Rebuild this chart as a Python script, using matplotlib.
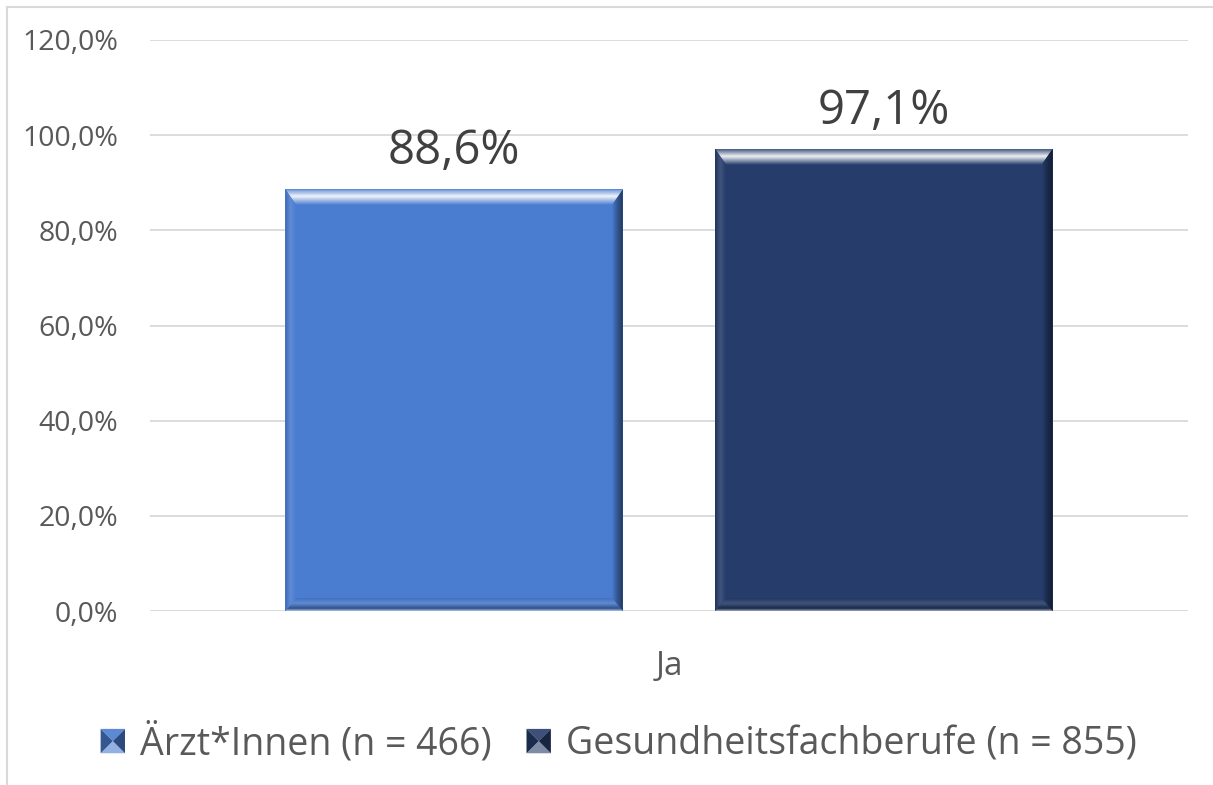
import matplotlib
matplotlib.use("Agg")
import matplotlib.pyplot as plt
import numpy as np
from matplotlib.patches import Polygon
from matplotlib.colors import to_rgb
from matplotlib.lines import Line2D
from matplotlib.legend_handler import HandlerBase

plt.rcParams['font.family'] = ['Open Sans', 'DejaVu Sans']

category = "Ja"
series = ["Ärzt*Innen (n = 466)", "Gesundheitsfachberufe (n = 855)"]
values = [88.6, 97.1]
value_labels = ["88,6%", "97,1%"]
colors = ["#4A7CD0", "#263D6B"]
yticks = [0, 20, 40, 60, 80, 100, 120]
ytick_labels = ["0,0%", "20,0%", "40,0%", "60,0%", "80,0%", "100,0%", "120,0%"]

TXT = "#595959"
W, H = 1213, 785
fig = plt.figure(figsize=(W / 100, H / 100), dpi=100)
ax = fig.add_axes([150 / W, 174 / H, 1038 / W, 571 / H])

offsets = [-0.207, 0.207]
width = 0.325
bars = []
for off, v, c in zip(offsets, values, colors):
    b = ax.bar(off, v, width=width, color=c, zorder=3)
    bars.append(b[0])

ax.set_xlim(-0.5, 0.5)
ax.set_ylim(0, 120)
ax.set_yticks(yticks)
ax.set_yticklabels(ytick_labels, fontsize=20.5, color=TXT)
ax.set_xticks([0])
ax.set_xticklabels([category], fontsize=24, color=TXT)
ax.tick_params(axis='both', length=0)
ax.tick_params(axis='y', pad=23)
ax.tick_params(axis='x', pad=28)
ax.grid(axis='y', color='#D9D9D9', linewidth=1.3, zorder=0)
for s in ax.spines.values():
    s.set_visible(False)

for bar, lab in zip(bars, value_labels):
    ax.annotate(lab, (bar.get_x() + bar.get_width() / 2, bar.get_height()),
                xytext=(0, 18), textcoords='offset points', ha='center', va='baseline',
                fontsize=34, color='#404040', zorder=5)


def mix(c, t, a):
    c = np.array(to_rgb(c)); t = np.array(to_rgb(t))
    return c * (1 - a) + t * a


def grad_fill(ax, poly_xy, stops, direction):
    """Fill polygon (display coords) with a linear gradient."""
    poly = Polygon(poly_xy, closed=True, transform=None, facecolor='none', edgecolor='none')
    ax.add_patch(poly)
    n = 64
    pos = np.linspace(0, 1, n)
    sp = [s[0] for s in stops]
    cols = np.array([[np.interp(p, sp, [to_rgb(s[1])[k] for s in stops]) for k in range(3)] for p in pos])
    xs = [p[0] for p in poly_xy]; ys = [p[1] for p in poly_xy]
    x0, x1, y0, y1 = min(xs), max(xs), min(ys), max(ys)
    if direction == 'down':      # position 0 at top
        img = cols[::-1][:, None, :]
    elif direction == 'up':      # position 0 at bottom
        img = cols[:, None, :]
    elif direction == 'right':   # position 0 at left
        img = cols[None, :, :]
    else:                        # 'left': 0 at right
        img = cols[::-1][None, :, :]
    im = ax.imshow(img, extent=[x0, x1, y0, y1], origin='lower', transform=None,
                   aspect='auto', interpolation='bilinear', zorder=4)
    im.set_clip_path(poly)


fig.canvas.draw()
for bar, c in zip(bars, colors):
    (x0, y0), (x1, y1) = ax.transData.transform([(bar.get_x(), 0),
                                                  (bar.get_x() + bar.get_width(), bar.get_height())])
    bt, bs, bb = 16, 11, 13
    # top bevel
    grad_fill(ax, [(x0, y1), (x1, y1), (x1 - bs, y1 - bt), (x0 + bs, y1 - bt)],
              [(0, mix(c, 'white', 0.15)), (0.45, mix(c, 'white', 0.92)), (1, c)], 'down')
    # left bevel
    grad_fill(ax, [(x0, y1), (x0 + bs, y1 - bt), (x0 + bs, y0 + bb), (x0, y0)],
              [(0, mix(c, 'black', 0.15)), (0.5, mix(c, 'white', 0.12)), (1, c)], 'right')
    # right bevel
    grad_fill(ax, [(x1, y1), (x1 - bs, y1 - bt), (x1 - bs, y0 + bb), (x1, y0)],
              [(0, mix(c, 'black', 0.55)), (0.6, mix(c, 'black', 0.25)), (1, c)], 'left')
    # bottom bevel
    grad_fill(ax, [(x0, y0), (x1, y0), (x1 - bs, y0 + bb), (x0 + bs, y0 + bb)],
              [(0, mix(c, 'white', 0.55)), (0.2, mix(c, 'black', 0.35)), (0.6, mix(c, 'white', 0.12)), (1, mix(c, 'black', 0.1))], 'up')


class BevelHandler(HandlerBase):
    def create_artists(self, legend, orig_handle, xdescent, ydescent, width, height, fontsize, trans):
        c = orig_handle.get_color()
        s = min(width, height)
        cx = -xdescent + width / 2
        cy = -ydescent + height / 2
        x0, x1, y0, y1 = cx - s / 2, cx + s / 2, cy - s / 2, cy + s / 2
        arts = []
        arts.append(Polygon([(x0, y1), (x1, y1), (cx, cy)], closed=True,
                            facecolor=mix(c, 'white', 0.1), edgecolor='none', transform=trans))
        arts.append(Polygon([(x0, y0), (x1, y0), (cx, cy)], closed=True,
                            facecolor=mix(c, 'white', 0.4), edgecolor='none', transform=trans))
        arts.append(Polygon([(x0, y0), (x0, y1), (cx, cy)], closed=True,
                            facecolor=mix(c, 'black', 0.3), edgecolor='none', transform=trans))
        arts.append(Polygon([(x1, y0), (x1, y1), (cx, cy)], closed=True,
                            facecolor=mix(c, 'black', 0.4), edgecolor='none', transform=trans))
        return arts


handles = [Line2D([], [], color=c) for c in colors]
leg = fig.legend(handles, series, loc='center', bbox_to_anchor=(0.510, (785 - 743) / H),
                 ncol=2, frameon=False, fontsize=27, handler_map={Line2D: BevelHandler()},
                 handlelength=0.65, handleheight=0.65, handletextpad=0.4, columnspacing=0.93)
for t in leg.get_texts():
    t.set_color(TXT)

# chart border (left/top visible)
fig.add_artist(Line2D([6.5 / W, 6.5 / W], [0, 1 - 6.5 / H], transform=fig.transFigure, color='#D9D9D9', lw=1.5))
fig.add_artist(Line2D([6.5 / W, 1], [1 - 6.5 / H, 1 - 6.5 / H], transform=fig.transFigure, color='#D9D9D9', lw=1.5))

fig.savefig("out.png", dpi=100)
